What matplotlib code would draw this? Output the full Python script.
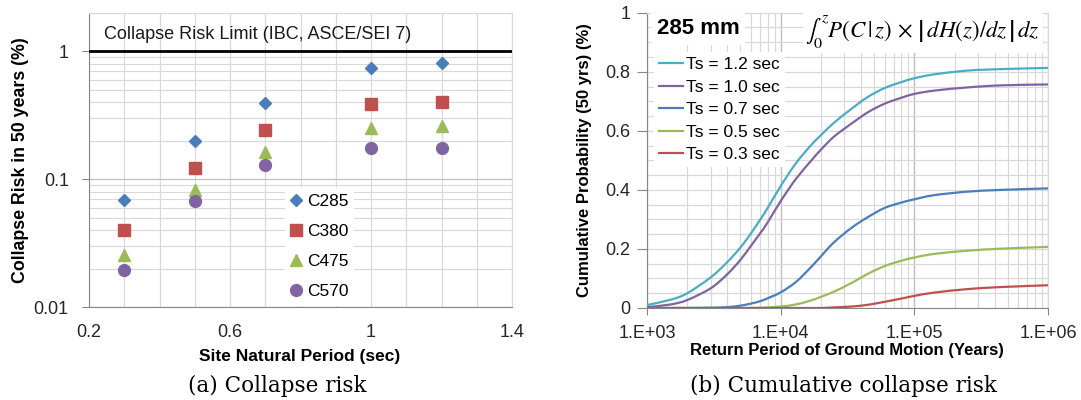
import matplotlib
matplotlib.use('Agg')
import matplotlib.pyplot as plt
import numpy as np
from matplotlib.ticker import FixedLocator, NullFormatter, FixedFormatter
from matplotlib.lines import Line2D
from matplotlib.path import Path
from matplotlib.patches import PathPatch

plt.rcParams['font.family'] = ['Liberation Sans', 'DejaVu Sans']
plt.rcParams['mathtext.fontset'] = 'stix'

W, H = 1081, 400

# ---------------- Panel (a) data ----------------
periods = [0.3, 0.5, 0.7, 1.0, 1.2]
risk_c285 = [0.069, 0.199, 0.395, 0.746, 0.806]
risk_c380 = [0.040, 0.122, 0.241, 0.388, 0.399]
risk_c475 = [0.0255, 0.083, 0.162, 0.252, 0.260]
risk_c570 = [0.0197, 0.068, 0.129, 0.174, 0.174]
labels_a = ['C285', 'C380', 'C475', 'C570']
risk_limit = 1.0
xticks_a = [0.2, 0.6, 1.0, 1.4]
xticklabels_a = ['0.2', '0.6', '1', '1.4']
yticks_a = [0.01, 0.1, 1]
yticklabels_a = ['0.01', '0.1', '1']

# ---------------- Panel (b) data ----------------
return_period = [1e3, 1.5e3, 2e3, 3e3, 4e3, 5e3, 6e3, 7e3, 8e3, 1e4, 1.3e4, 1.7e4,
                 2e4, 2.5e4, 3.4e4, 4.5e4, 6e4, 8e4, 1e5, 1.4e5, 2.5e5, 4.5e5, 1e6]
cum_ts12 = [0.010, 0.028, 0.050, 0.104, 0.156, 0.205, 0.253, 0.298, 0.339, 0.413, 0.490, 0.553,
            0.585, 0.627, 0.675, 0.715, 0.745, 0.765, 0.778, 0.791, 0.804, 0.809, 0.813]
cum_ts10 = [0.003, 0.012, 0.027, 0.067, 0.115, 0.163, 0.211, 0.252, 0.290, 0.362, 0.437, 0.500,
            0.536, 0.580, 0.625, 0.663, 0.692, 0.712, 0.725, 0.736, 0.747, 0.754, 0.757]
cum_ts07 = [0.000, 0.000, 0.000, 0.001, 0.003, 0.008, 0.015, 0.023, 0.033, 0.053, 0.088, 0.140,
            0.175, 0.222, 0.272, 0.308, 0.339, 0.357, 0.368, 0.382, 0.394, 0.400, 0.405]
cum_ts05 = [0.000, 0.000, 0.000, 0.000, 0.000, 0.000, 0.000, 0.001, 0.002, 0.005, 0.012, 0.026,
            0.038, 0.055, 0.085, 0.116, 0.142, 0.160, 0.171, 0.183, 0.194, 0.201, 0.207]
cum_ts03 = [0.000, 0.000, 0.000, 0.000, 0.000, 0.000, 0.000, 0.000, 0.000, 0.000, 0.000, 0.000,
            0.000, 0.002, 0.005, 0.011, 0.021, 0.032, 0.041, 0.052, 0.064, 0.071, 0.077]
labels_b = ['Ts = 1.2 sec', 'Ts = 1.0 sec', 'Ts = 0.7 sec', 'Ts = 0.5 sec', 'Ts = 0.3 sec']
xticks_b = [1e3, 1e4, 1e5, 1e6]
xticklabels_b = ['1.E+03', '1.E+04', '1.E+05', '1.E+06']
yticks_b = [0, 0.2, 0.4, 0.6, 0.8, 1]
yticklabels_b = ['0', '0.2', '0.4', '0.6', '0.8', '1']

BLUE = '#4A7EBB'
RED = '#C0504D'
GREEN = '#9BBB59'
PURPLE = '#8064A2'
CYAN = '#4BACC6'
GRID_MAJ = '#BFBFBF'
GRID_MIN = '#D9D9D9'
AXIS = '#868686'


def fx(x):
    return x / W


def fy(y):
    return 1 - y / H


def smooth_path(xs, ys):
    """Excel-style smoothed line (Catmull-Rom Bezier) in log-x space."""
    lx = np.log10(np.asarray(xs, float))
    y = np.asarray(ys, float)
    n = len(lx)
    verts = [(xs[0], ys[0])]
    codes = [Path.MOVETO]
    for i in range(n - 1):
        p0 = i - 1 if i > 0 else i
        p3 = i + 2 if i + 2 < n else i + 1
        c1x = lx[i] + (lx[i + 1] - lx[p0]) / 6
        c1y = y[i] + (y[i + 1] - y[p0]) / 6
        c2x = lx[i + 1] - (lx[p3] - lx[i]) / 6
        c2y = y[i + 1] - (y[p3] - y[i]) / 6
        verts += [(10 ** c1x, c1y), (10 ** c2x, c2y), (xs[i + 1], ys[i + 1])]
        codes += [Path.CURVE4] * 3
    return Path(verts, codes)


fig = plt.figure(figsize=(W / 100, H / 100), dpi=100)
fig.patch.set_facecolor('white')

# ================= Panel (a) =================
axa = fig.add_axes([fx(89), fy(307.3), (512 - 89) / W, (307.3 - 12.7) / H])
axa.set_yscale('log')
axa.set_xlim(0.2, 1.4)
axa.set_ylim(0.01, 2)
axa.xaxis.set_major_locator(FixedLocator(xticks_a))
axa.xaxis.set_major_formatter(FixedFormatter(xticklabels_a))
axa.xaxis.set_minor_locator(FixedLocator([0.3, 0.4, 0.5, 0.7, 0.8, 0.9, 1.1, 1.2, 1.3]))
axa.yaxis.set_major_locator(FixedLocator(yticks_a))
axa.yaxis.set_major_formatter(FixedFormatter(yticklabels_a))
minor_y = [m * d for d in (0.01, 0.1, 1) for m in range(2, 10) if m * d <= 2]
axa.yaxis.set_minor_locator(FixedLocator(minor_y))
axa.yaxis.set_minor_formatter(NullFormatter())
axa.grid(True, which='major', axis='y', color=GRID_MAJ, lw=0.9)
axa.grid(True, which='minor', axis='y', color=GRID_MIN, lw=0.8)
axa.grid(True, which='both', axis='x', color=GRID_MIN, lw=0.9)
axa.set_axisbelow(True)
axa.tick_params(axis='x', which='both', length=0, pad=12, labelsize=13, colors='#262626')
axa.tick_params(axis='y', which='major', length=5, pad=9.5, labelsize=13, colors='#262626',
                direction='out')
axa.tick_params(axis='y', which='minor', length=0)
axa.tick_params(axis='both', which='both', color=AXIS)
for s in ('left', 'bottom'):
    axa.spines[s].set_color(AXIS)
for s in ('top', 'right'):
    axa.spines[s].set_color(GRID_MIN)

axa.axhline(risk_limit, color='black', lw=2, zorder=3)
axa.text(0.0357, 0.925, 'Collapse Risk Limit (IBC, ASCE/SEI 7)', transform=axa.transAxes,
         fontsize=13, va='center', ha='left', color='#1a1a1a')

mk = dict(ls='none', zorder=4)
axa.plot(periods, risk_c285, marker='D', ms=6.5, color=BLUE, label=labels_a[0], **mk)
axa.plot(periods, risk_c380, marker='s', ms=8.5, color=RED, label=labels_a[1], **mk)
axa.plot(periods, risk_c475, marker='^', ms=9, color=GREEN, label=labels_a[2], **mk)
axa.plot(periods, risk_c570, marker='o', ms=8.5, color=PURPLE, label=labels_a[3], **mk)

lega = axa.legend(loc='upper left', bbox_to_anchor=(fx(285), fy(188)),
                  bbox_transform=fig.transFigure, frameon=True, fancybox=False,
                  edgecolor='none', facecolor='white', framealpha=1, fontsize=12.5,
                  handlelength=0.6, handletextpad=0.3, labelspacing=0.86,
                  borderpad=0.35, borderaxespad=0)
lega.set_zorder(5)

fig.text(fx(300), fy(356), 'Site Natural Period (sec)', fontsize=12.5, fontweight='bold',
         ha='center', va='center')
fig.text(fx(21), fy(160), 'Collapse Risk in 50 years (%)', fontsize=12.8, fontweight='bold',
         ha='center', va='center', rotation=90)
fig.text(fx(277), fy(386), '(a) Collapse risk', fontsize=15.5, family='DejaVu Serif',
         ha='center', va='center')

# ================= Panel (b) =================
axb = fig.add_axes([fx(647), fy(308), (1048 - 647) / W, (308 - 12.7) / H])
axb.set_xscale('log')
axb.set_xlim(1e3, 1e6)
axb.set_ylim(0, 1)
axb.xaxis.set_major_locator(FixedLocator(xticks_b))
axb.xaxis.set_major_formatter(FixedFormatter(xticklabels_b))
minor_x = [m * d for d in (1e3, 1e4, 1e5) for m in range(2, 10)]
axb.xaxis.set_minor_locator(FixedLocator(minor_x))
axb.xaxis.set_minor_formatter(NullFormatter())
axb.yaxis.set_major_locator(FixedLocator(yticks_b))
axb.yaxis.set_major_formatter(FixedFormatter(yticklabels_b))
axb.yaxis.set_minor_locator(FixedLocator([i * 0.05 for i in range(1, 20) if i % 4 != 0]))
axb.grid(True, which='major', axis='x', color=GRID_MAJ, lw=1.0)
axb.grid(True, which='minor', axis='x', color=GRID_MIN, lw=0.9)
axb.grid(True, which='both', axis='y', color=GRID_MIN, lw=0.9)
axb.set_axisbelow(True)
axb.tick_params(axis='x', which='major', length=5, pad=7, labelsize=13, colors='#262626')
axb.tick_params(axis='x', which='minor', length=0)
axb.tick_params(axis='y', which='major', length=7, pad=5, labelsize=13, colors='#262626')
axb.tick_params(axis='y', which='minor', length=0)
axb.tick_params(axis='both', which='both', color=AXIS)
for s in ('left', 'bottom'):
    axb.spines[s].set_color(AXIS)
for s in ('top', 'right'):
    axb.spines[s].set_color(GRID_MIN)

curves = [cum_ts12, cum_ts10, cum_ts07, cum_ts05, cum_ts03]
colors_b = [CYAN, PURPLE, BLUE, GREEN, RED]
handles = []
for vals, c, lab in zip(curves, colors_b, labels_b):
    patch = PathPatch(smooth_path(return_period, vals), facecolor='none', edgecolor=c,
                      lw=1.6, zorder=3, capstyle='round', joinstyle='round')
    axb.add_patch(patch)
    handles.append(Line2D([], [], color=c, lw=1.6, label=lab))

legb = axb.legend(handles=handles, loc='upper left', bbox_to_anchor=(fx(654), fy(52)),
                  bbox_transform=fig.transFigure, frameon=True, fancybox=False,
                  edgecolor='none', facecolor='white', framealpha=1, fontsize=12.5,
                  handlelength=1.35, handletextpad=0.2, labelspacing=0.42,
                  borderpad=0.3, borderaxespad=0)
legb.set_zorder(5)

axb.text(fx(657), fy(29), '285 mm', transform=fig.transFigure, fontsize=16,
         fontweight='bold', ha='left', va='center', zorder=6,
         bbox=dict(facecolor='white', edgecolor='none', pad=4))
axb.text(fx(1040), fy(32),
         r'$\int_0^z P(C\,|\,z)\,\times\,\left|\,dH(z)/dz\,\right|\,dz$',
         transform=fig.transFigure, fontsize=16.5, ha='right', va='center', zorder=6,
         bbox=dict(facecolor='white', edgecolor='none', pad=2))

fig.text(fx(847), fy(350), 'Return Period of Ground Motion (Years)', fontsize=12,
         fontweight='bold', ha='center', va='center')
fig.text(fx(585), fy(160), 'Cumulative Probability (50 yrs) (%)', fontsize=12,
         fontweight='bold', ha='center', va='center', rotation=90)
fig.text(fx(843), fy(386), '(b) Cumulative collapse risk', fontsize=15.5,
         family='DejaVu Serif', ha='center', va='center')

fig.savefig('out.png', dpi=100, facecolor='white')
